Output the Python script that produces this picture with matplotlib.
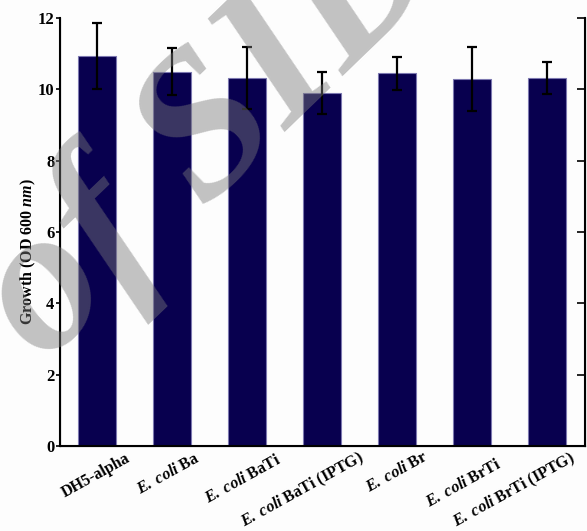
import matplotlib
matplotlib.use('Agg')
import matplotlib.pyplot as plt

# Crecimiento de cada cepa (DO a 600 nm) con su desviación
cepas = ["DH5-alpha",
         r"$\mathbfit{E.\,coli}$ Ba",
         r"$\mathbfit{E.\,coli}$ BaTi",
         r"$\mathbfit{E.\,coli}$ BaTi (IPTG)",
         r"$\mathbfit{E.\,coli}$ Br",
         r"$\mathbfit{E.\,coli}$ BrTi",
         r"$\mathbfit{E.\,coli}$ BrTi (IPTG)"]
crecimiento = [10.93, 10.50, 10.33, 9.90, 10.45, 10.30, 10.33]
desviacion = [0.93, 0.67, 0.87, 0.58, 0.47, 0.90, 0.45]
marcas_y = [0, 2, 4, 6, 8, 10, 12]

plt.rcParams['font.family'] = 'Liberation Serif'
plt.rcParams['font.weight'] = 'bold'
plt.rcParams['mathtext.fontset'] = 'custom'
plt.rcParams['mathtext.bfit'] = 'Liberation Serif:italic:bold'
plt.rcParams['mathtext.rm'] = 'Liberation Serif:bold'

fig = plt.figure(figsize=(5.87, 5.31), dpi=100, facecolor='#fdfdfd')
ax = fig.add_axes([0.102, 0.160, 0.894, 0.806])
ax.set_facecolor('#fdfdfd')

x = range(len(cepas))
ax.bar(x, crecimiento, width=0.51, color='#08004f', edgecolor='#7c78b0',
       linewidth=0.8, zorder=2)
ax.errorbar(x, crecimiento, yerr=desviacion, fmt='none', ecolor='black',
            elinewidth=1.6, capsize=3.5, capthick=1.6, zorder=3)

ax.set_xlim(-0.5, 6.5)
ax.set_ylim(0, 12)
ax.set_yticks(marcas_y)
ax.set_yticklabels([str(v) for v in marcas_y], fontsize=12, fontweight='bold')
ax.tick_params(axis='y', direction='out', length=3, width=1.2, pad=1)
ax.set_xticks([])

ax.spines['top'].set_visible(False)
for lado in ['left', 'bottom', 'right']:
    ax.spines[lado].set_linewidth(1.5)

# eje derecho con marcas hacia dentro y sin etiquetas
ax2 = ax.twinx()
ax2.set_ylim(0, 12)
ax2.set_yticks(marcas_y)
ax2.set_yticklabels([])
ax2.tick_params(axis='y', direction='in', length=6, width=1.2)
ax2.spines['top'].set_visible(False)

ax.set_ylabel(r"Growth (OD 600 $\mathbfit{nm}$)", fontsize=11.5,
              fontweight='bold')
ax.yaxis.set_label_coords(-0.042, 0.455)

# Etiquetas inclinadas colocadas a mano bajo cada barra
# Formato: (desplazamiento_x, desplazamiento_y) en puntos
posiciones = [(-1, -21), (-3, -20), (-3, -24), (-14, -32),
              (0, -19), (-6, -27), (-24, -32)]
for i, nombre in enumerate(cepas):
    dx, dy = posiciones[i]
    ax.annotate(nombre, xy=(i, 0), xycoords=('data', 'axes fraction'),
                xytext=(dx, dy), textcoords='offset points',
                ha='center', va='center', rotation=29, fontsize=11.5,
                fontweight='bold', annotation_clip=False)

# marca de agua gris que cruza el gráfico
fig.text(0.075, 0.313, "of SID", rotation=44, fontsize=148,
         family='Liberation Serif', style='italic', fontweight='bold',
         color='#7a7a7a', alpha=0.45, ha='left', va='baseline',
         rotation_mode='anchor', zorder=10)

fig.savefig('out.png', dpi=100, facecolor=fig.get_facecolor())
